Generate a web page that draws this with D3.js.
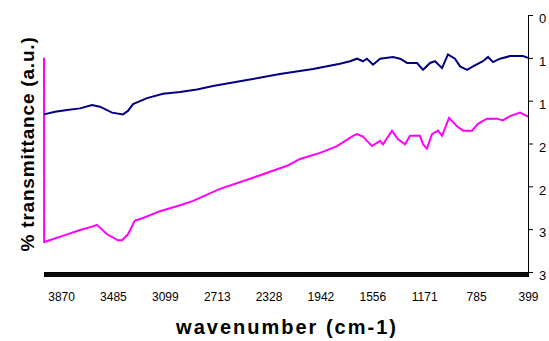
<!DOCTYPE html>
<html>
<head>
<meta charset="utf-8">
<script src="https://cdn.jsdelivr.net/npm/d3@7"></script>
<style>
  body { margin: 0; background: #fff; }
  svg { display: block; font-family: Arial, "Liberation Sans", sans-serif; }
</style>
</head>
<body>
<svg id="chart" width="549" height="341"></svg>
<script>
// wavenumber (cm-1) and transmittance
const blueWave = [3997, 3915, 3826, 3729, 3640, 3581, 3491, 3410, 3373, 3335, 3231, 3112, 2986, 2860, 2741, 2488, 2243, 1997, 1797, 1722, 1670, 1626, 1596, 1551, 1499, 1403, 1350, 1298, 1224, 1179, 1127, 1090, 1038, 994, 942, 904, 852, 808, 734, 696, 659, 607, 533, 436, 399];
const blueVals = [1.16, 1.13, 1.11, 1.09, 1.05, 1.07, 1.14, 1.16, 1.12, 1.04, 0.97, 0.92, 0.90, 0.87, 0.83, 0.76, 0.69, 0.63, 0.57, 0.54, 0.51, 0.54, 0.51, 0.58, 0.51, 0.49, 0.51, 0.56, 0.56, 0.64, 0.56, 0.54, 0.62, 0.46, 0.51, 0.60, 0.64, 0.60, 0.54, 0.49, 0.55, 0.51, 0.48, 0.48, 0.50];

const pinkWave = [3997, 3996, 3841, 3729, 3640, 3603, 3529, 3447, 3417, 3373, 3321, 3261, 3135, 2986, 2889, 2689, 2443, 2190, 2094, 1945, 1819, 1700, 1670, 1626, 1559, 1499, 1477, 1410, 1365, 1313, 1276, 1202, 1179, 1150, 1113, 1068, 1038, 986, 927, 882, 815, 771, 704, 629, 585, 533, 458, 406, 399];
const pinkVals = [0.50, 2.65, 2.57, 2.51, 2.47, 2.45, 2.56, 2.63, 2.63, 2.56, 2.40, 2.37, 2.29, 2.22, 2.17, 2.03, 1.90, 1.76, 1.68, 1.61, 1.53, 1.41, 1.39, 1.42, 1.53, 1.47, 1.51, 1.35, 1.45, 1.51, 1.41, 1.41, 1.51, 1.56, 1.39, 1.35, 1.41, 1.20, 1.30, 1.35, 1.35, 1.27, 1.21, 1.21, 1.23, 1.18, 1.14, 1.18, 1.19];

const xLabels = [3870, 3485, 3099, 2713, 2328, 1942, 1556, 1171, 785, 399];
const yTicks = [0, 0.5, 1, 1.5, 2, 2.5, 3];
const yTickLabels = ["0", "1", "1", "2", "2", "3", "3"];

const svg = d3.select("#chart");
const plotL = 44, plotR = 528, plotT = 15, plotB = 272;

const x = d3.scaleLinear().domain([3997, 399]).range([plotL, plotR]);
const y = d3.scaleLinear().domain([0, 3]).range([plotT, plotB]);

// dense category ticks along the bottom
const catTicks = d3.range(3997, 399, -1.9285);
svg.append("g")
  .attr("transform", "translate(0," + plotB + ")")
  .call(d3.axisBottom(x).tickValues(catTicks).tickSize(5).tickFormat(""))
  .call(g => g.selectAll("line").attr("stroke", "#000").attr("stroke-width", 0.6))
  .call(g => g.select(".domain").attr("stroke", "#000"));

svg.append("g")
  .attr("transform", "translate(0," + plotB + ")")
  .call(d3.axisBottom(x).tickValues(xLabels).tickSize(0).tickPadding(20).tickFormat(d3.format("d")))
  .call(g => g.select(".domain").remove())
  .call(g => g.selectAll("text").attr("font-size", 12).attr("fill", "#000")
    .attr("font-family", "Arial, 'Liberation Sans', sans-serif"));

svg.append("g")
  .attr("transform", "translate(" + plotR + ",0)")
  .call(d3.axisRight(y).tickValues(yTicks).tickSize(5).tickPadding(6)
    .tickFormat((d, i) => yTickLabels[i]))
  .call(g => g.selectAll("line").attr("stroke", "#000"))
  .call(g => g.select(".domain").attr("stroke", "#000"))
  .call(g => g.selectAll("text").attr("font-size", 13).attr("fill", "#000").attr("dy", "0.6em")
    .attr("font-family", "Arial, 'Liberation Sans', sans-serif"));

const line = d3.line().x(d => x(d[0])).y(d => y(d[1]));

svg.append("path")
  .datum(d3.zip(pinkWave, pinkVals))
  .attr("fill", "none")
  .attr("stroke", "#ff00ff")
  .attr("stroke-width", 2)
  .attr("d", line);

svg.append("path")
  .datum(d3.zip(blueWave, blueVals))
  .attr("fill", "none")
  .attr("stroke", "#000080")
  .attr("stroke-width", 2)
  .attr("d", line);

svg.append("text")
  .attr("transform", "translate(34,144) rotate(-90)")
  .attr("text-anchor", "middle")
  .attr("font-size", 19)
  .attr("font-weight", "bold")
  .attr("letter-spacing", 0.8)
  .text("% transmittance (a.u.)");

svg.append("text")
  .attr("x", 287)
  .attr("y", 334)
  .attr("text-anchor", "middle")
  .attr("font-size", 20)
  .attr("font-weight", "bold")
  .attr("letter-spacing", 2)
  .text("wavenumber (cm-1)");
</script>
</body>
</html>
